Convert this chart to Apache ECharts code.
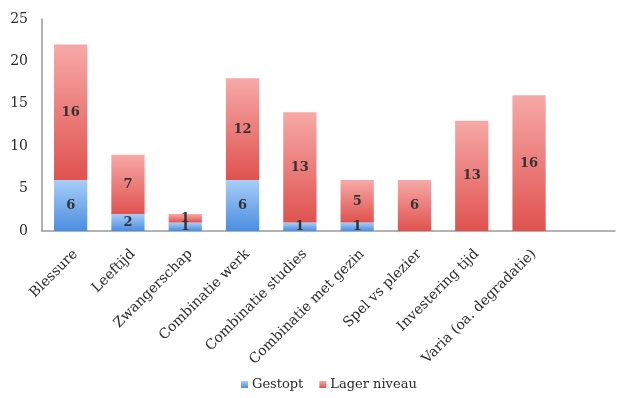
<!DOCTYPE html>
<html>
<head>
<meta charset="utf-8">
<script src="https://cdn.jsdelivr.net/npm/echarts@6/dist/echarts.min.js"></script>
<style>
  html, body { margin: 0; padding: 0; background: #fff; }
  #chart { width: 619px; height: 398px; }
</style>
</head>
<body>
<div id="chart"></div>
<script>
// reasons for stopping / dropping to a lower level
const categories = ['Blessure', 'Leeftijd', 'Zwangerschap', 'Combinatie werk', 'Combinatie studies',
  'Combinatie met gezin', 'Spel vs plezier', 'Investering tijd', 'Varia (oa. degradatie)', '']
const gestopt = [6, 2, 1, 6, 1, 1, null, null, null, null]
const lagerNiveau = [16, 7, 1, 12, 13, 5, 6, 13, 16, null]
const yTicks = [0, 5, 10, 15, 20, 25]

const font = 'DejaVu Serif'

const grad = (top, bottom) => new echarts.graphic.LinearGradient(0, 0, 0, 1, [
  { offset: 0, color: top },
  { offset: 1, color: bottom }
])

const barLabel = {
  show: true,
  position: 'inside',
  fontFamily: font,
  fontSize: 13,
  fontWeight: 'bold',
  color: '#333'
}

const chart = echarts.init(document.getElementById('chart'))
chart.setOption({
  animation: false,
  textStyle: { fontFamily: font },
  grid: { left: 42, top: 19, right: 4, bottom: 167 },
  legend: {
    bottom: 2,
    left: 236,
    itemWidth: 7,
    itemHeight: 7,
    itemGap: 16,
    itemStyle: { borderWidth: 0 },
    icon: 'rect',
    textStyle: { fontFamily: font, fontSize: 13, color: '#2a2a2a', padding: [0, 0, 0, -1] },
    data: ['Gestopt', 'Lager niveau']
  },
  xAxis: {
    type: 'category',
    data: categories,
    axisLine: { lineStyle: { color: '#999', width: 1.5 } },
    axisTick: { show: false },
    axisLabel: {
      interval: 0,
      rotate: 45,
      margin: 16,
      verticalAlign: 'top',
      fontFamily: font,
      fontSize: 14,
      color: '#2a2a2a'
    }
  },
  yAxis: {
    type: 'value',
    min: 0,
    max: yTicks[yTicks.length - 1],
    interval: 5,
    splitLine: { show: false },
    axisLine: { show: true, lineStyle: { color: '#999', width: 1.5 } },
    axisTick: { show: false },
    axisLabel: { fontFamily: font, fontSize: 14, color: '#2a2a2a', margin: 14 }
  },
  series: [
    {
      name: 'Gestopt',
      type: 'bar',
      stack: 'tot',
      barWidth: '58%',
      data: gestopt,
      itemStyle: { color: grad('#a8cdf8', '#4a8de0') },
      label: barLabel
    },
    {
      name: 'Lager niveau',
      type: 'bar',
      stack: 'tot',
      barWidth: '58%',
      data: lagerNiveau,
      itemStyle: { color: grad('#f7a9a7', '#df524f') },
      label: barLabel
    }
  ]
})
</script>
</body>
</html>
